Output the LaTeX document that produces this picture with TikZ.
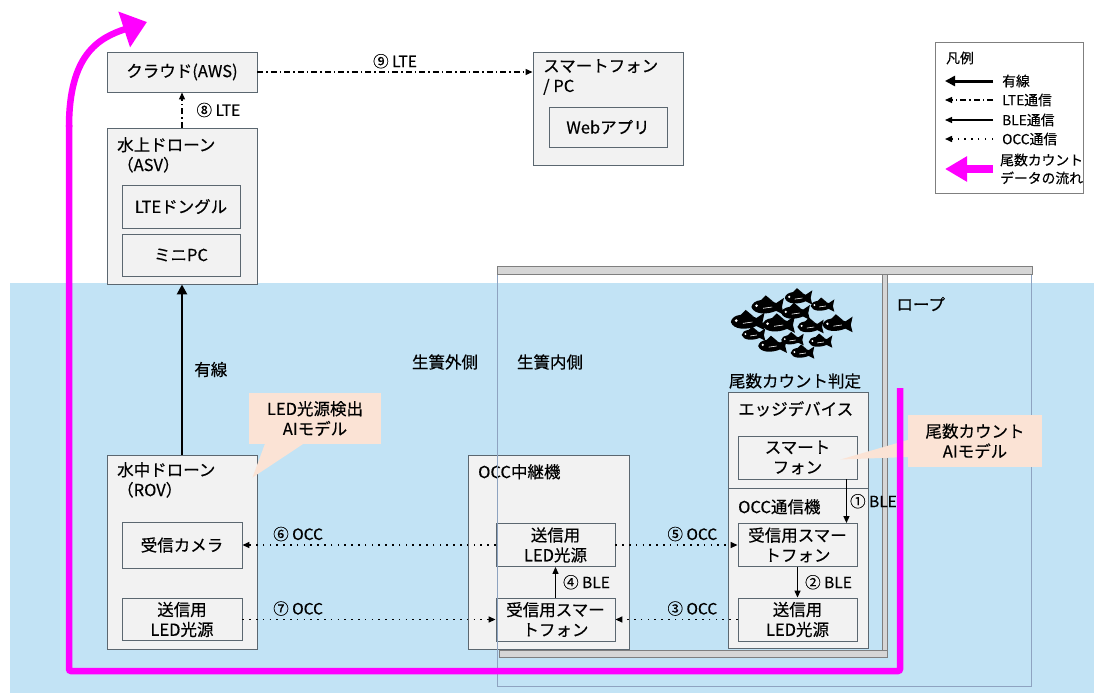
\documentclass[tikz,border=0pt]{standalone}
\usepackage{fontspec}
\setmainfont{Noto Sans CJK JP}[FakeBold=0.35]
\usetikzlibrary{positioning, arrows.meta, calc}
\definecolor{boxFill}{HTML}{F2F2F2}
\definecolor{boxLine}{HTML}{5B6770}
\definecolor{seaBlue}{HTML}{C2E3F5}
\definecolor{calloutPeach}{HTML}{FBE3D5}
\definecolor{flowMagenta}{HTML}{FF00FF}
\definecolor{barGrey}{HTML}{D6D6D6}
\definecolor{barEdge}{HTML}{7F7F7F}
\definecolor{cageLine}{HTML}{8EA3C0}

\tikzset{
  devbox/.style={draw=boxLine, fill=boxFill, line width=0.9pt, inner sep=0pt},
  partbox/.style={draw=boxLine, fill=boxFill, line width=0.9pt, align=center,
    minimum width=119pt, minimum height=43pt, inner sep=0pt},
  titletext/.style={anchor=north west, align=left, inner sep=0pt},
  callout/.style={fill=calloutPeach, align=center, inner sep=0pt},
  linklabel/.style={font=\fontsize{15.5}{18}\selectfont, inner sep=1pt},
  legendtext/.style={font=\fontsize{13.8}{18}\selectfont, anchor=west, align=left, inner sep=0pt},
  wired/.style={line width=2.6pt, -{Triangle[length=10pt,width=10pt]}},
  lteline/.style={line width=1.1pt, dash pattern=on 6pt off 3pt on 1.5pt off 3pt,
    -{Triangle[length=7pt,width=6pt]}},
  bleline/.style={line width=1.3pt, -{Triangle[length=7pt,width=6pt]}},
  occline/.style={line width=1.5pt, dash pattern=on 1.5pt off 5.3pt,
    -{Triangle[length=7pt,width=6pt]}},
  flow/.style={draw=flowMagenta, line width=6.5pt, rounded corners=2pt},
  bar/.style={draw=barEdge, fill=barGrey, line width=1pt}
}

% one fish, head to the left
\newcommand{\fishat}[3]{%
  \begin{scope}[shift={(#1,#2)}, scale=#3]
    \fill[black] (-12,0) .. controls (-11,-6) and (-1,-7) .. (7,-3) -- (13,-7) -- (11.5,0)
      -- (13,6) -- (7,3) .. controls (0,6) and (-10,6) .. (-12,0) -- cycle;
    \fill[black] (-5,-5) -- (-1,-9) -- (5,-4) -- cycle;
    \fill[white] (-8,-1) circle (1.1);
    \draw[white, line width=0.6pt] (-3,1) -- (4,0);
  \end{scope}}

\begin{document}
\begin{tikzpicture}[x=1pt, y=-1pt, font=\fontsize{16.5}{20}\selectfont]
  \useasboundingbox (0,0) rectangle (1094,693);
  \fill[white] (0,0) rectangle (1094,693);
  % sea
  \fill[seaBlue] (10,283) rectangle (1094,693);

  % above water
  \node[devbox, minimum width=150pt, minimum height=40pt] (cloud) at (182,72) {クラウド(AWS)};
  \node[devbox, minimum width=150pt, minimum height=113pt] (phone) at (608,108.5) {};
  \node[titletext] at (543,59) {スマートフォン\\/ PC};
  \node[partbox, minimum width=118pt, minimum height=40pt] (webapp) at (608,127) {Webアプリ};

  \node[devbox, minimum width=150pt, minimum height=156pt] (asv) at (182,206) {};
  \node[titletext] at (117,137) {水上ドローン\\（ASV）};
  \node[partbox, minimum width=118pt] (dongle) at (181,206.5) {LTEドングル};
  \node[partbox, minimum width=118pt, minimum height=42pt] (minipc) at (181,255) {ミニPC};

  % under water
  \node[devbox, minimum width=150pt, minimum height=194pt] (rov) at (182,552) {};
  \node[titletext] at (117,462) {水中ドローン\\（ROV）};
  \node[partbox, minimum width=120pt, minimum height=46pt] (camera) at (182,545) {受信カメラ};
  \node[partbox, minimum width=120pt, minimum height=42pt] (rovled) at (182,619.5) {送信用\\LED光源};

  \node[devbox, minimum width=161pt, minimum height=194pt] (relay) at (548.5,552) {};
  \node[titletext] at (478,464) {OCC中継機};
  \node[partbox] (relayled) at (555.5,545) {送信用\\LED光源};
  \node[partbox] (relayphone) at (555.5,619.5) {受信用スマー\\トフォン};

  \node at (795,381) {尾数カウント判定};
  \node[devbox, minimum width=140pt, minimum height=96pt] (edge) at (798,440) {};
  \node[titletext] at (738,401) {エッジデバイス};
  \node[partbox] (edgephone) at (797.5,457.5) {スマート\\フォン};

  \node[devbox, minimum width=140pt, minimum height=160pt] (occ) at (798,568) {};
  \node[titletext] at (738,499) {OCC通信機};
  \node[partbox] (occphone) at (797.5,545) {受信用スマー\\トフォン};
  \node[partbox] (occled) at (797.5,619.5) {送信用\\LED光源};

  % fish school
  \foreach \fx/\fy/\fs in {798/298/1.1, 767/307/1.3, 822/306/0.95, 795/313/1.15,
      747/322/1.35, 778/325/1.3, 810/327/1.05, 837/325/1.2, 753/335/0.95,
      772/346/1.15, 792/340/0.9, 820/342/0.95, 802/353/0.95}
    \fishat{\fx}{\fy}{\fs};

  % cage and rope
  \draw[cageLine, line width=0.9pt] (497,266) rectangle (1031,686);
  \draw[bar] (497,266) rectangle (1032,274);
  \draw[bar] (882,274) rectangle (887,650);
  \draw[bar] (499,650) rectangle (887,657);
  \node (outside) at (445,362) {生簀外側};
  \node (inside) at (550,362) {生簀内側};
  \node[anchor=west] (rope) at (893,304) {ロープ};

  % links
  \draw[lteline] (cloud.east) -- (cloud.east -| phone.west)
    node[linklabel, midway, above=2pt] {⑨ LTE};
  \draw[lteline] (asv.north) -- (cloud.south)
    node[linklabel, midway, right=13pt] {⑧ LTE};
  \draw[wired] (rov.north) -- (asv.south)
    node[linklabel, midway, right=10pt, font=\fontsize{16.5}{20}\selectfont] {有線};
  \draw[occline] (relayled.west) -- (camera.east)
    node[linklabel, pos=0.78, above=2pt] {⑥ OCC};
  \draw[occline] (rovled.east) -- (relayphone.west)
    node[linklabel, pos=0.22, above=2pt] {⑦ OCC};
  \draw[bleline] (relayphone.north) -- (relayled.south)
    node[linklabel, midway, right=6pt] {④ BLE};
  \draw[occline] (relayled.east) -- (occphone.west)
    node[linklabel, pos=0.63, above=2pt] {⑤ OCC};
  \draw[occline] (occled.west) -- (relayphone.east)
    node[linklabel, pos=0.37, above=2pt] {③ OCC};
  \draw[bleline] ($(edgephone.south east)+(-11,0)$) -- ($(occphone.north east)+(-11,0)$)
    node[linklabel, midway, right=2pt] {① BLE};
  \draw[bleline] (occphone.south) -- (occled.north)
    node[linklabel, midway, right=6pt] {② BLE};

  % AI model callouts
  \node[callout, minimum width=132pt, minimum height=51pt] (ledai) at (315,418.5) {LED光源検出\\AIモデル};
  \fill[calloutPeach] ($(ledai.south west)+(16,0)$) -- ($(rov.north east)+(-5,23)$)
    -- ($(ledai.south west)+(54,0)$) -- cycle;
  \node[callout, minimum width=134pt, minimum height=52pt] (countai) at (975,441) {尾数カウント\\AIモデル};
  \fill[calloutPeach] ($(countai.west)+(0,-1)$) -- ($(edgephone.east)+(-17,2)$)
    -- ($(countai.west)+(0,16)$) -- cycle;

  % count data flow
  \draw[flow] (900,388) -- (900,671) -- (69,671) -- (69,125);
  \draw[flowMagenta, line width=6.5pt, -{Triangle[length=24pt,width=36pt]}]
    (69,127) .. controls (69,55) and (98,38) .. (147,22);

  % legend
  \node[draw=barEdge, line width=1pt, minimum width=148pt, minimum height=150pt] (legend) at (1009,118) {};
  \node[legendtext] (lgTitle) at (946,58) {凡例};
  \node[legendtext] (lgWired) at (1002,81) {有線};
  \node[legendtext] (lgLte) at (1002,100) {LTE通信};
  \node[legendtext] (lgBle) at (1002,120) {BLE通信};
  \node[legendtext] (lgOcc) at (1002,139) {OCC通信};
  \node[legendtext] (lgFlow) at (1000,169) {尾数カウント\\データの流れ};
  \draw[wired, line width=3pt] (993,81) -- (945,81);
  \draw[lteline] (993,100) -- (945,100);
  \draw[bleline] (993,120) -- (945,120);
  \draw[occline] (993,139) -- (945,139);
  \draw[flowMagenta, line width=8pt, -{Triangle[length=22pt,width=24pt]}] (993,169) -- (945,169);
\end{tikzpicture}
\end{document}
